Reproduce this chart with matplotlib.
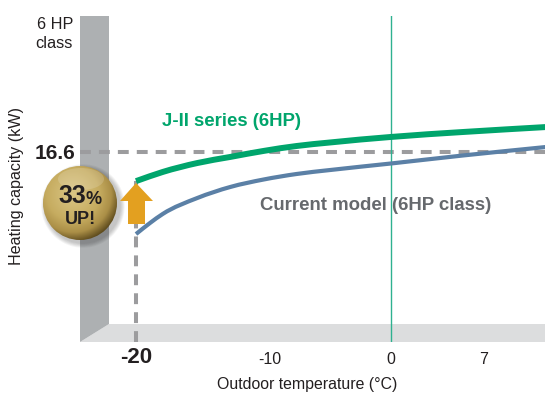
import numpy as np
import matplotlib
matplotlib.use("Agg")
import matplotlib.pyplot as plt
from matplotlib.patches import Polygon, Circle, PathPatch, Ellipse
from matplotlib.path import Path
from matplotlib.colors import LinearSegmentedColormap
from matplotlib.transforms import ScaledTranslation

plt.rcParams['font.family'] = ['Liberation Sans', 'DejaVu Sans']

# Data
temp_j2 = [-20, -17.9, -15.2, -12.6, -10, -7.4, -4.8, 0, 5.65, 12.15]
cap_j2 = [14.6, 15.23, 15.84, 16.26, 16.67, 17.01, 17.25, 17.63, 17.97, 18.31]
temp_cur = [-20, -18.9, -17.9, -15.2, -12.6, -10, -7.4, -4.8, 0, 5.65, 12.15]
cap_cur = [10.97, 11.73, 12.35, 13.44, 14.2, 14.71, 15.09, 15.36, 15.81, 16.36, 16.94]
ref_temp = -20
ref_cap = 16.6
x_ticks = [-20, -10, 0, 7]
x_labels = ['-20', '-10', '0', '7']


def smooth_path(xs, ys):
    """Bezier path through the points, with tangents from the local slope."""
    xs, ys = np.asarray(xs, float), np.asarray(ys, float)
    m = np.gradient(ys, xs)
    verts, codes = [(xs[0], ys[0])], [Path.MOVETO]
    for i in range(len(xs) - 1):
        d = (xs[i + 1] - xs[i]) / 3
        verts += [(xs[i] + d, ys[i] + m[i] * d), (xs[i + 1] - d, ys[i + 1] - m[i + 1] * d), (xs[i + 1], ys[i + 1])]
        codes += [Path.CURVE4] * 3
    return Path(verts, codes)


W, H = 548, 405
fig = plt.figure(figsize=(W / 100, H / 100), dpi=100, facecolor='white')

# Pixel-space layer for the chart's 3D backdrop and the badge
bg = fig.add_axes([0, 0, 1, 1], zorder=0)
bg.set_xlim(0, W); bg.set_ylim(H, 0); bg.axis('off')
bg.add_patch(Polygon([(80, 342), (109, 324), (545, 324), (545, 342)], fc='#dcddde', ec='none'))
bg.add_patch(Polygon([(80, 16), (109, 16), (109, 324), (80, 342)], fc='#adb0b2', ec='none'))

# Data axes: x 12.75 px per deg C, y 14.58 px per kW
L, R, T, B = 80, 545, 16, 342
ax = fig.add_axes([L / W, 1 - B / H, (R - L) / W, (B - T) / H], zorder=1)
ax.patch.set_alpha(0)
ax.set_xlim((L - 391) / 12.75, (R - 391) / 12.75)
ax.set_ylim((394 - B) / 14.58, (394 - T) / 14.58)
for s in ax.spines.values():
    s.set_visible(False)

dash = dict(color='#9c9c9e', lw=2.9, dashes=(2.7, 2.0), dash_capstyle='butt', zorder=2)
ax.plot(ax.get_xlim(), [ref_cap, ref_cap], **dash)
ax.plot([ref_temp, ref_temp], [ax.get_ylim()[0], cap_j2[0]], **dash)
ax.axvline(0, color='#2fb190', lw=1.0, zorder=2)
ax.add_patch(PathPatch(smooth_path(temp_cur, cap_cur), fc='none', ec='#5b80a6', lw=3.0, capstyle='butt', zorder=3))
ax.add_patch(PathPatch(smooth_path(temp_j2, cap_j2), fc='none', ec='#00a56c', lw=4.3, capstyle='butt', zorder=4))

ax.set_xticks(x_ticks)
ax.set_xticklabels(x_labels, fontsize=11.5, color='#231f20')
ax.tick_params(axis='x', length=0, pad=7)
lbls = ax.get_xticklabels()
lbls[0].set_fontsize(16); lbls[0].set_fontweight('bold')
# the reference prints -10 and 7 slightly right of their true positions, and -20 a little higher
for lab, dx, dy in ((lbls[0], 0, 5), (lbls[1], 6.5, 0), (lbls[3], 3.5, 0)):
    lab.set_transform(lab.get_transform() + ScaledTranslation(dx / 100, dy / 100, fig.dpi_scale_trans))
ax.set_yticks([ref_cap])
ax.set_yticklabels(['16.6'], fontsize=15, fontweight='bold', color='#231f20')
ax.tick_params(axis='y', length=0, pad=3)
ax.set_xlabel('Outdoor temperature (°C)', fontsize=11.4, color='#231f20', va='center')
ax.xaxis.set_label_coords((307 - L) / (R - L), (B - 385) / (B - T))
ax.set_ylabel('Heating capacity (kW)', fontsize=11.6, color='#231f20', va='center')
ax.yaxis.set_label_coords((17 - L) / (R - L), (B - 186) / (B - T))

# Top layer for annotations in pixel space
top = fig.add_axes([0, 0, 1, 1], zorder=2)
top.set_xlim(0, W); top.set_ylim(H, 0); top.axis('off'); top.patch.set_alpha(0)
top.text(73, 34, '6 HP\nclass', ha='right', va='center', fontsize=11.7, color='#231f20', linespacing=1.4)
top.text(162, 121, 'J-II series (6HP)', color='#00a56c', fontsize=13.4, fontweight='bold', va='center')
top.text(260, 206, 'Current model (6HP class)', color='#66696d', fontsize=13.4, fontweight='bold', va='center')

# Arrow
top.add_patch(Polygon([(136, 183), (153, 201), (145, 201), (145, 224), (128, 224), (128, 201), (120, 201)],
                      fc='#e3a020', ec='none', zorder=5))

# Gold badge with shading
cx, cy, r = 80, 203, 37
for i in range(6, 0, -1):
    top.add_patch(Circle((cx + 3, cy + 3), r + i * 0.8, fc='black', ec='none', alpha=0.04, zorder=4))
gold = LinearSegmentedColormap.from_list('gold', [(0, '#dac685'), (0.55, '#c6ac60'), (0.8, '#ab8f47'), (1, '#5f4c1e')])
yy, xx = np.mgrid[cy - r:cy + r:200j, cx - r:cx + r:200j]
shade = np.hypot(xx - (cx - 7), yy - (cy - 9)) / (1.3 * r)
im = top.imshow(shade, extent=(cx - r, cx + r, cy + r, cy - r), cmap=gold, vmin=0, vmax=1, zorder=6, aspect='auto')
im.set_clip_path(Circle((cx, cy), r, transform=top.transData))
top.add_patch(Ellipse((cx + 1, cy - 24), 46, 22, fc='white', ec='none', alpha=0.16, zorder=6.5))
top.set_xlim(0, W); top.set_ylim(H, 0)
top.text(58, 196, '33', fontsize=18, fontweight='bold', color='#231f20', ha='left', va='center', zorder=7)
top.text(86, 199.5, '%', fontsize=13, fontweight='bold', color='#231f20', ha='left', va='center', zorder=7)
top.text(80, 220, 'UP!', fontsize=13, fontweight='bold', color='#231f20', ha='center', va='center', zorder=7)

fig.savefig('out.png', dpi=100, facecolor='white')
